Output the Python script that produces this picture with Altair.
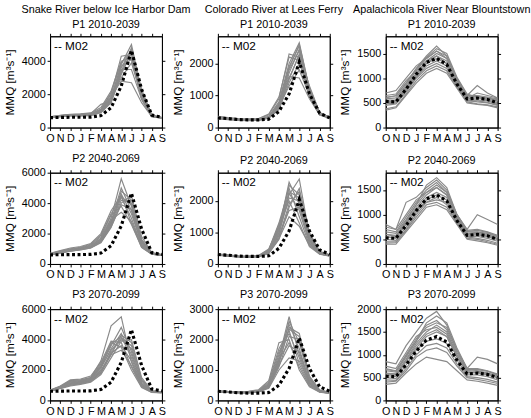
import json
import altair as alt
import pandas as pd

months = ["O", "N", "D", "J", "F", "M", "A", "M", "J", "J", "A", "S"]
rivers = ["Snake River below Ice Harbor Dam", "Colorado River at Lees Ferry",
          "Apalachicola River Near Blountstown"]
periods = ["P1 2010-2039", "P2 2040-2069", "P3 2070-2099"]

# Observed-based reference run (M02), one per river
m02_snake = [600, 610, 620, 620, 630, 720, 1200, 2500, 4650, 2300, 750, 620]
m02_colorado = [300, 280, 250, 240, 240, 260, 500, 1050, 2050, 1050, 450, 300]
m02_apalachicola = [530, 520, 780, 1080, 1320, 1400, 1280, 880, 580, 600, 570, 500]

snake_p1 = [
    [620, 700, 750, 760, 800, 1000, 1800, 3800, 5000, 2200, 750, 600],
    [600, 680, 720, 730, 760, 950, 1600, 3400, 4800, 2000, 700, 580],
    [650, 720, 780, 800, 850, 1100, 2000, 4300, 4400, 1800, 680, 600],
    [580, 650, 700, 700, 720, 900, 1500, 3200, 4600, 2100, 720, 590],
    [640, 740, 800, 820, 880, 1200, 2200, 4000, 4200, 1700, 650, 560],
    [600, 690, 740, 760, 790, 980, 1700, 3000, 3900, 1900, 700, 580],
    [620, 700, 760, 780, 820, 1050, 1900, 2800, 2700, 1500, 650, 570],
    [590, 660, 710, 720, 750, 930, 1550, 3300, 4500, 2300, 760, 600],
    [630, 710, 770, 790, 840, 1400, 1600, 3600, 4700, 2000, 700, 590],
    [610, 690, 730, 750, 780, 960, 1650, 3500, 3500, 1700, 680, 580],
    [600, 680, 740, 760, 800, 1000, 1800, 3700, 4100, 1800, 690, 580],
    [640, 720, 780, 800, 830, 1100, 2100, 3900, 4600, 1900, 700, 600],
]
snake_p2 = [
    [650, 800, 950, 1050, 1200, 1700, 3000, 5600, 3800, 1400, 700, 600],
    [620, 750, 880, 980, 1100, 1500, 2600, 4800, 4200, 1600, 720, 600],
    [680, 850, 1000, 1100, 1300, 1900, 3300, 4400, 3000, 1200, 650, 580],
    [600, 720, 840, 930, 1050, 1400, 2400, 4000, 4500, 1800, 750, 620],
    [640, 780, 920, 1000, 1150, 1600, 2800, 5000, 3500, 1300, 680, 590],
    [660, 820, 960, 1060, 1250, 1800, 3200, 3800, 2600, 1100, 640, 570],
    [610, 740, 860, 950, 1080, 1450, 2500, 4200, 4000, 1500, 700, 600],
    [630, 770, 900, 990, 1120, 1550, 2700, 4600, 3300, 1300, 680, 590],
    [650, 800, 930, 1030, 1180, 1650, 2900, 3400, 2800, 1200, 650, 580],
    [620, 760, 890, 980, 1100, 1500, 2600, 4400, 3900, 1500, 700, 600],
    [700, 880, 1050, 1150, 1350, 2000, 3500, 4500, 2700, 1100, 640, 570],
    [600, 730, 850, 940, 1060, 1450, 2450, 3900, 3600, 1600, 720, 610],
]
snake_p3 = [
    [650, 900, 1300, 1350, 1500, 2600, 4900, 5500, 2500, 900, 550, 520],
    [620, 850, 1100, 1200, 1400, 2200, 3600, 4800, 3200, 1100, 580, 540],
    [680, 950, 1350, 1400, 1600, 2500, 3900, 3800, 2200, 900, 540, 510],
    [600, 800, 1000, 1100, 1250, 1800, 3000, 4300, 3800, 1400, 620, 560],
    [640, 880, 1150, 1250, 1450, 2300, 3700, 4200, 2800, 1000, 560, 530],
    [610, 820, 1050, 1150, 1300, 1900, 3200, 4000, 3400, 1300, 600, 550],
    [660, 920, 1250, 1300, 1500, 2400, 3800, 3500, 2000, 850, 530, 500],
    [590, 780, 950, 1050, 1200, 1700, 2800, 3900, 4000, 1500, 640, 570],
    [630, 860, 1100, 1200, 1380, 2100, 3400, 4400, 3000, 1100, 570, 530],
    [600, 810, 1000, 1120, 1280, 1850, 3100, 3600, 2600, 1000, 560, 520],
    [670, 900, 1200, 1300, 1450, 2200, 3300, 4100, 3600, 1200, 600, 540],
    [620, 840, 1080, 1180, 1350, 2000, 3000, 3300, 2300, 950, 550, 510],
]
colorado_p1 = [
    [330, 290, 260, 250, 260, 350, 800, 2000, 2650, 1200, 450, 320],
    [300, 270, 240, 230, 240, 320, 700, 1700, 2450, 1100, 420, 300],
    [340, 300, 270, 260, 270, 400, 900, 2300, 2200, 1000, 400, 310],
    [280, 260, 230, 220, 230, 300, 600, 1500, 2300, 1300, 470, 320],
    [320, 280, 250, 240, 250, 340, 750, 1900, 2550, 1150, 440, 310],
    [290, 260, 240, 230, 240, 310, 650, 1300, 1800, 1000, 420, 290],
    [310, 280, 250, 240, 250, 330, 720, 1600, 1550, 900, 400, 280],
    [300, 270, 240, 230, 240, 320, 680, 1800, 2400, 1250, 460, 310],
    [350, 310, 280, 270, 280, 420, 950, 2200, 2100, 950, 390, 300],
    [270, 250, 225, 215, 225, 290, 560, 1400, 2000, 1200, 460, 320],
    [310, 280, 250, 240, 250, 330, 740, 1850, 2600, 1200, 450, 310],
    [290, 265, 235, 225, 235, 310, 640, 1550, 2250, 1100, 430, 300],
]
colorado_p2 = [
    [300, 270, 240, 230, 250, 400, 1100, 2600, 1900, 700, 350, 270],
    [290, 260, 230, 220, 240, 360, 950, 2200, 2700, 900, 380, 280],
    [310, 280, 250, 240, 260, 450, 1300, 2400, 1500, 600, 320, 260],
    [280, 250, 225, 215, 230, 340, 850, 1900, 2300, 1000, 400, 290],
    [300, 270, 240, 230, 250, 390, 1050, 2300, 2100, 800, 360, 270],
    [320, 290, 260, 250, 270, 480, 1200, 2000, 1300, 550, 310, 250],
    [290, 260, 235, 225, 240, 370, 900, 1700, 1800, 750, 350, 270],
    [305, 275, 245, 235, 255, 420, 1150, 2500, 2200, 750, 360, 275],
    [285, 255, 230, 220, 235, 350, 800, 1500, 1200, 600, 330, 260],
    [295, 265, 240, 230, 245, 380, 1000, 2100, 2000, 850, 370, 280],
    [310, 280, 250, 240, 260, 430, 1250, 2250, 1700, 650, 330, 260],
    [280, 250, 225, 215, 230, 330, 780, 1800, 2400, 950, 390, 285],
]
colorado_p3 = [
    [300, 280, 270, 270, 300, 500, 1400, 2750, 1500, 600, 300, 250],
    [290, 270, 260, 260, 290, 450, 1200, 2400, 2200, 800, 350, 270],
    [310, 290, 280, 290, 330, 600, 1700, 2300, 1200, 500, 280, 240],
    [280, 260, 250, 250, 280, 420, 1100, 2100, 2000, 750, 330, 260],
    [300, 280, 270, 275, 310, 520, 1500, 2500, 1700, 600, 300, 250],
    [320, 300, 290, 300, 350, 650, 1900, 2000, 1000, 450, 270, 230],
    [285, 265, 255, 255, 285, 440, 1150, 1800, 1600, 650, 310, 250],
    [295, 275, 265, 265, 300, 480, 1300, 2600, 1900, 700, 320, 255],
    [280, 260, 250, 250, 280, 400, 1000, 1400, 1300, 550, 290, 240],
    [305, 285, 275, 280, 320, 560, 1600, 2200, 1400, 550, 290, 245],
    [290, 270, 260, 260, 295, 460, 1250, 2350, 2100, 750, 330, 260],
    [300, 280, 270, 270, 305, 500, 1350, 1900, 1100, 480, 280, 240],
]
apalachicola_p1 = [
    [600, 650, 900, 1200, 1450, 1650, 1450, 1000, 650, 850, 700, 600],
    [500, 520, 780, 1050, 1300, 1450, 1350, 900, 580, 600, 560, 500],
    [450, 480, 720, 1000, 1200, 1300, 1200, 850, 550, 520, 500, 450],
    [700, 750, 1000, 1250, 1400, 1550, 1400, 1000, 650, 650, 620, 580],
    [550, 560, 820, 1100, 1350, 1500, 1400, 950, 620, 620, 580, 530],
    [380, 420, 680, 950, 1150, 1250, 1150, 820, 520, 480, 460, 420],
    [650, 680, 950, 1150, 1300, 1400, 1300, 950, 600, 700, 650, 600],
    [520, 540, 800, 1080, 1350, 1450, 1300, 880, 560, 560, 540, 480],
    [480, 500, 750, 1020, 1250, 1350, 1250, 870, 540, 540, 510, 460],
    [580, 600, 860, 1150, 1400, 1550, 1450, 980, 620, 640, 600, 550],
    [350, 400, 650, 900, 1100, 1200, 1100, 800, 500, 470, 450, 400],
    [620, 640, 900, 1180, 1420, 1600, 1500, 1020, 680, 620, 600, 560],
]
apalachicola_p2 = [
    [800, 700, 1250, 1350, 1550, 1700, 1500, 1000, 700, 1000, 900, 800],
    [550, 520, 800, 1100, 1350, 1450, 1350, 900, 600, 620, 580, 500],
    [450, 450, 700, 1000, 1250, 1350, 1200, 850, 550, 520, 480, 420],
    [700, 650, 950, 1250, 1500, 1650, 1450, 1000, 650, 650, 620, 550],
    [600, 580, 850, 1150, 1400, 1550, 1400, 950, 620, 640, 600, 520],
    [400, 400, 650, 900, 1150, 1200, 1100, 800, 500, 470, 430, 380],
    [650, 620, 900, 1200, 1600, 1750, 1550, 1000, 680, 700, 650, 580],
    [500, 480, 750, 1050, 1300, 1400, 1300, 880, 560, 560, 520, 460],
    [550, 540, 820, 1100, 1250, 1300, 1250, 900, 580, 590, 560, 500],
    [750, 700, 1000, 1300, 1450, 1550, 1400, 980, 660, 680, 640, 560],
    [420, 430, 680, 950, 1200, 1250, 1150, 820, 520, 500, 450, 400],
    [600, 560, 880, 1200, 1450, 1600, 1450, 950, 620, 600, 560, 500],
]
apalachicola_p3 = [
    [850, 800, 1200, 1500, 1800, 1950, 1650, 1100, 700, 950, 900, 800],
    [550, 520, 850, 1150, 1400, 1500, 1400, 950, 600, 620, 580, 500],
    [350, 380, 600, 800, 950, 900, 850, 650, 450, 420, 380, 330],
    [700, 650, 1000, 1350, 1650, 1750, 1550, 1050, 680, 680, 640, 560],
    [600, 580, 900, 1250, 1500, 1650, 1500, 1000, 640, 640, 600, 520],
    [450, 440, 700, 1000, 1200, 1250, 1150, 800, 520, 500, 460, 400],
    [650, 620, 950, 1300, 1700, 1850, 1700, 1150, 700, 700, 650, 580],
    [500, 480, 780, 1100, 1300, 1350, 1250, 880, 560, 560, 520, 450],
    [750, 700, 1050, 1400, 1550, 1600, 1450, 1000, 660, 680, 640, 560],
    [400, 420, 650, 950, 1100, 1150, 1050, 750, 500, 460, 420, 370],
    [580, 560, 880, 1200, 1450, 1550, 1400, 950, 620, 600, 560, 500],
    [680, 640, 980, 1300, 1600, 1700, 1600, 1100, 700, 650, 600, 540],
]

ensembles = [
    [snake_p1, colorado_p1, apalachicola_p1],
    [snake_p2, colorado_p2, apalachicola_p2],
    [snake_p3, colorado_p3, apalachicola_p3],
]
m02 = [m02_snake, m02_colorado, m02_apalachicola]

y_max = [[5500, 2850, 1850], [6000, 2900, 1850], [6000, 3000, 2000]]
y_ticks = [
    [[0, 2000, 4000], [0, 1000, 2000], [0, 500, 1000, 1500]],
    [[0, 2000, 4000, 6000], [0, 1000, 2000], [0, 500, 1000, 1500]],
    [[0, 2000, 4000, 6000], [0, 1000, 2000, 3000], [0, 500, 1000, 1500, 2000]],
]

FONT = "Liberation Sans"
GRAY = "#8a8a8a"
W, H = 114, 93
label_expr = json.dumps(months) + "[datum.value]"


def long_frame(series_list):
    rows = []
    for k, s in enumerate(series_list):
        for i, v in enumerate(s):
            rows.append({"m": i, "q": v, "member": k})
    return pd.DataFrame(rows)


def panel(r, c):
    ymax = y_max[r][c]
    xs = alt.Scale(domain=[0, 11], nice=False)
    ys = alt.Scale(domain=[0, ymax], nice=False)
    x_bottom = alt.Axis(values=list(range(12)), labelExpr=label_expr, title=None,
                        labelOverlap=False, labelFlush=False)
    y_left = alt.Axis(values=y_ticks[r][c], title="MMQ [m³s⁻¹]", labelOverlap=False,
                      format="d")
    x_top = alt.Axis(orient="top", values=list(range(12)), labels=False, title=None)
    y_right = alt.Axis(orient="right", values=y_ticks[r][c], labels=False, title=None)

    gray = alt.Chart(long_frame(ensembles[r][c])).mark_line(
        color=GRAY, strokeWidth=1.2, clip=True
    ).encode(
        x=alt.X("m:Q", scale=xs, axis=x_bottom),
        y=alt.Y("q:Q", scale=ys, axis=y_left),
        detail="member:N",
    )
    black = alt.Chart(long_frame([m02[c]])).mark_line(
        color="black", strokeWidth=3.2, strokeDash=[3, 2.6], strokeCap="butt"
    ).encode(
        x=alt.X("m:Q", scale=xs, axis=x_top),
        y=alt.Y("q:Q", scale=ys, axis=y_right),
    )
    legend = alt.Chart(pd.DataFrame({"t": ["-- M02"]})).mark_text(
        align="left", baseline="middle", font=FONT, fontSize=12, color="black"
    ).encode(x=alt.value(4), y=alt.value(10), text="t:N")

    if r == 0:
        title_text = [rivers[c], periods[r]]
    else:
        title_text = [periods[r]]
    return alt.layer(gray, black, legend).resolve_axis(
        x="independent", y="independent"
    ).properties(
        width=W, height=H,
        title=alt.TitleParams(text=title_text, fontSize=11, font=FONT,
                              fontWeight="normal", anchor="middle", offset=3,
                              lineHeight=15, color="black"),
    )


rows = [alt.hconcat(*[panel(r, c) for c in range(3)], spacing=57, bounds="flush")
        for r in range(3)]
chart = alt.vconcat(*rows, spacing=8).properties(
    padding={"left": 3, "top": 0, "right": 0, "bottom": 0}
).configure_view(stroke="black", strokeWidth=1).configure_axis(
    grid=False, domainColor="black", tickColor="black", labelColor="black",
    labelFont=FONT, labelFontSize=11, titleFont=FONT, titleFontSize=12,
    titleFontWeight="normal", titleColor="black", tickSize=3, labelPadding=2,
    titlePadding=5,
)

chart.save("out.html", embed_options={"renderer": "svg", "actions": False})
